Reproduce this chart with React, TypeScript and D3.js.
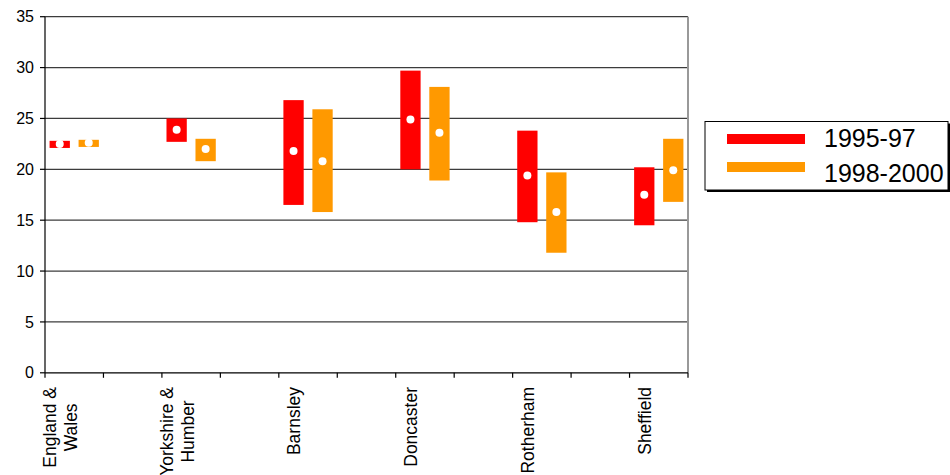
import React from "react";
import * as d3 from "d3";

// Areas shown along the category axis ("\n" splits a label onto two lines)
const categories = [
  "England &\nWales",
  "Yorkshire &\nHumber",
  "Barnsley",
  "Doncaster",
  "Rotherham",
  "Sheffield",
];

const seriesNames = ["1995-97", "1998-2000"];
const seriesColors = ["#ff0000", "#ff9900"];

// Lower bound, upper bound and central estimate per area
const low9597 = [22.1, 22.7, 16.5, 20.0, 14.8, 14.5];
const high9597 = [22.8, 25.0, 26.8, 29.7, 23.8, 20.2];
const mid9597 = [22.5, 23.9, 21.8, 24.9, 19.4, 17.5];

const low9800 = [22.2, 20.8, 15.8, 18.9, 11.8, 16.8];
const high9800 = [22.9, 23.0, 25.9, 28.1, 19.7, 23.0];
const mid9800 = [22.6, 22.0, 20.8, 23.6, 15.8, 19.9];

const yTicks = [0, 5, 10, 15, 20, 25, 30, 35];

const W = 950;
const H = 475;
const plot = { left: 45, right: 688, top: 16.7, bottom: 372.8 };
const FONT = "'Liberation Sans', Arial, Helvetica, sans-serif";
const X_LABEL_SIZE = 17.5;

// Each area occupies every other slot of the category axis, leaving an empty slot between areas
const slotCount = categories.length * 2 - 1;

const lows = [low9597, low9800];
const highs = [high9597, high9800];
const mids = [mid9597, mid9800];

function measure(text: string, size: number): number {
  const canvas = document.createElement("canvas");
  const ctx = canvas.getContext("2d");
  if (!ctx) return text.length * size * 0.55;
  ctx.font = `${size}px 'Liberation Sans', Arial, sans-serif`;
  return ctx.measureText(text).width;
}

export default function App() {
  const x = d3.scaleLinear().domain([0, slotCount]).range([plot.left, plot.right]);
  const slotW = x(1) - x(0);
  const inner = d3
    .scaleBand<string>()
    .domain(seriesNames)
    .range([0, slotW])
    .paddingInner(0.3)
    .paddingOuter(0.158);
  const y = d3.scaleLinear().domain([0, 35]).range([plot.bottom, plot.top]);

  const slotTicks = d3.range(0, slotCount + 1);

  return (
    <svg
      width={W}
      height={H}
      viewBox={`0 0 ${W} ${H}`}
      style={{ position: "absolute", left: 0, top: 0, background: "#fff" }}
      fontFamily={FONT}
    >
      <rect x={0} y={0} width={W} height={H} fill="#fff" />

      {/* horizontal gridlines */}
      {yTicks.slice(1).map((t) => (
        <line
          key={`g${t}`}
          x1={plot.left}
          x2={plot.right}
          y1={y(t)}
          y2={y(t)}
          stroke="#3c3c3c"
          strokeWidth={1.3}
        />
      ))}

      {/* right border of the plot area */}
      <line
        x1={plot.right}
        x2={plot.right}
        y1={plot.top}
        y2={plot.bottom}
        stroke="#999"
        strokeWidth={2}
      />

      {/* range bars with central estimate */}
      {categories.map((c, i) => {
        const x0 = x(i * 2);
        return seriesNames.map((s, k) => {
          const bx = x0 + (inner(s) ?? 0);
          const bw = inner.bandwidth();
          const top = y(highs[k][i]);
          const bot = y(lows[k][i]);
          return (
            <g key={`${c}-${s}`}>
              <rect x={bx} y={top} width={bw} height={bot - top} fill={seriesColors[k]} />
              <circle cx={bx + bw / 2} cy={y(mids[k][i])} r={4} fill="#fff" />
            </g>
          );
        });
      })}

      {/* y axis */}
      <line x1={plot.left} x2={plot.left} y1={plot.top} y2={plot.bottom} stroke="#000" strokeWidth={1.2} />
      {yTicks.map((t) => (
        <g key={`yt${t}`}>
          <line x1={plot.left - 5} x2={plot.left} y1={y(t)} y2={y(t)} stroke="#000" strokeWidth={1.2} />
          <text x={34} y={y(t) + 5.6} textAnchor="end" fontSize={16} fill="#000">
            {t}
          </text>
        </g>
      ))}

      {/* x axis */}
      <line x1={plot.left} x2={plot.right} y1={plot.bottom} y2={plot.bottom} stroke="#000" strokeWidth={1.2} />
      {slotTicks.map((t) => (
        <line
          key={`xt${t}`}
          x1={x(t)}
          x2={x(t)}
          y1={plot.bottom}
          y2={plot.bottom + 5}
          stroke="#000"
          strokeWidth={1.2}
        />
      ))}

      {/* rotated category labels */}
      {categories.map((c, i) => {
        const lines = c.split("\n");
        const blockLen = Math.max(...lines.map((l) => measure(l, X_LABEL_SIZE)));
        const cx = x(i * 2 + 0.5);
        const cy = 387 + blockLen / 2;
        return (
          <g key={`lab${i}`}>
            {lines.map((l, j) => {
              const bx = cx - 8 + (j - (lines.length - 1) / 2) * 21;
              return (
                <text
                  key={j}
                  transform={`translate(${bx},${cy}) rotate(-90)`}
                  textAnchor="middle"
                  fontSize={X_LABEL_SIZE}
                  fill="#000"
                >
                  {l}
                </text>
              );
            })}
          </g>
        );
      })}

      {/* legend */}
      <rect x={707} y={123.5} width={243} height={68.5} fill="#000" />
      <rect x={705} y={121.5} width={243} height={68.5} fill="#fff" stroke="#000" strokeWidth={1} />
      {seriesNames.map((s, k) => (
        <g key={`leg${s}`}>
          <rect x={727} y={134 + k * 28} width={78} height={10} fill={seriesColors[k]} />
          <text x={824} y={146.7 + k * 35} fontSize={25} fill="#000">
            {s}
          </text>
        </g>
      ))}
    </svg>
  );
}
